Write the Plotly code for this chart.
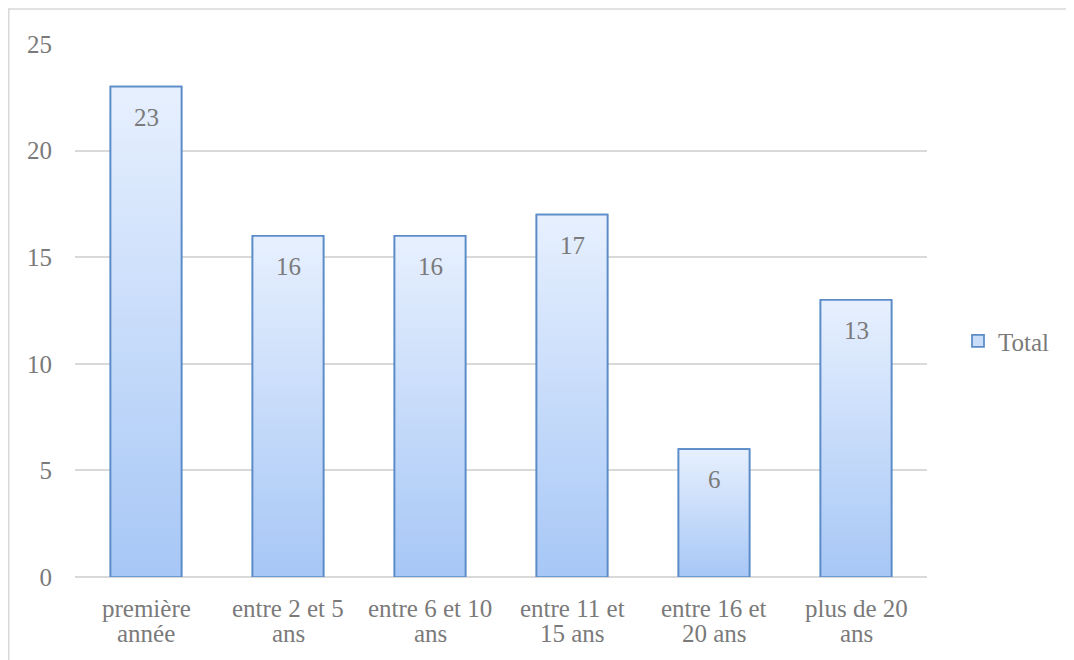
import plotly.graph_objects as go

categories = ["première<br>année", "entre 2 et 5<br>ans", "entre 6 et 10<br>ans",
              "entre 11 et<br>15 ans", "entre 16 et<br>20 ans", "plus de 20<br>ans"]
values = [23, 16, 16, 17, 6, 13]
series_name = "Total"
y_ticks = [0, 5, 10, 15, 20, 25]

FONT = "Liberation Serif"
FS = 25
TXT = "#7a7a7a"
BORDER = "#5b8cc8"
TOP = "#e7f0fe"
BOT = "#a7c7f6"
half = 0.25

# page has an 8px body margin; figure coordinates are offset accordingly
W, H = 1066, 652
L, R, T, B = 67, 147, 36, 83
PW, PH = W - L - R, H - T - B

xs = list(range(len(categories)))
fig = go.Figure()
fig.add_trace(go.Bar(x=xs, y=values, width=2 * half, name=series_name,
                     marker=dict(color="#c9dcf8", line=dict(color=BORDER, width=1.75)),
                     showlegend=True, hoverinfo="skip"))
for i, v in zip(xs, values):
    fig.add_trace(go.Scatter(
        x=[i - half, i + half, i + half, i - half, i - half],
        y=[0, 0, v, v, 0], mode="lines", fill="toself",
        fillgradient=dict(type="vertical", colorscale=[[0, BOT], [1, TOP]]),
        line=dict(color=BORDER, width=1.75), showlegend=False, hoverinfo="skip"))
    fig.add_annotation(x=i, y=v, text=str(v), showarrow=False, yanchor="top",
                       yshift=-15, font=dict(family=FONT, size=FS, color=TXT))

# category labels, two lines each, with tight line spacing
for i, cat in zip(xs, categories):
    for k, line in enumerate(cat.split("<br>")):
        fig.add_annotation(x=i, y=0, text=line, showarrow=False, yanchor="middle",
                           yshift=-31 - 25 * k, font=dict(family=FONT, size=FS, color=TXT))

fig.add_shape(type="rect", xref="paper", yref="paper",
              x0=(0.75 - L) / PW, x1=1.3, y0=-0.3, y1=(T + PH - 1) / PH,
              line=dict(color="#d9d9d9", width=1.5), fillcolor="rgba(0,0,0,0)", layer="below")

fig.update_layout(
    width=W, height=H,
    margin=dict(l=L, r=R, t=T, b=B),
    paper_bgcolor="white", plot_bgcolor="white",
    font=dict(family=FONT, size=FS, color=TXT),
    bargap=0.5,
    legend=dict(x=(950 - L) / PW, y=(T + PH - 333) / PH, xanchor="left", yanchor="middle",
                font=dict(family=FONT, size=FS, color=TXT), itemwidth=30,
                bgcolor="rgba(0,0,0,0)"),
    xaxis=dict(range=[-0.5, len(categories) - 0.5], tickvals=xs, showticklabels=False,
               showgrid=False, zeroline=False, showline=False, ticks="", fixedrange=True),
    yaxis=dict(range=[0, 25], tickvals=y_ticks, showgrid=True, gridcolor="#d9d9d9",
               gridwidth=1.5, zeroline=True, zerolinecolor="#d9d9d9", zerolinewidth=1.5,
               showline=False, ticks="", ticklabelstandoff=22),
)
fig.write_html("out.html")
